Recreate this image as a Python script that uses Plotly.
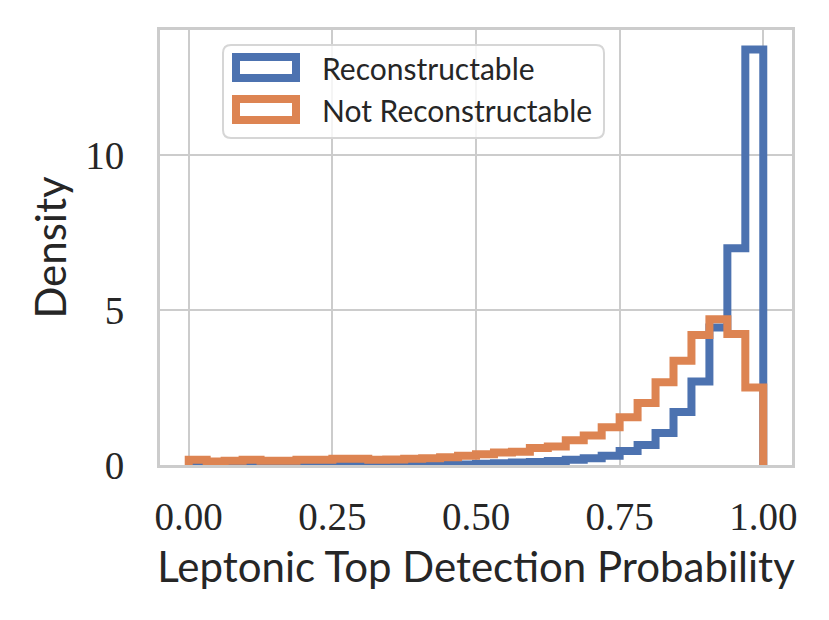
import numpy as np
import plotly.graph_objects as go

# density per bin, 32 equal bins on [0, 1]
n_bins = 32
bin_edges = np.linspace(0, 1, n_bins + 1)

reconstructable = [0, 0, 0, 0, 0, 0, 0, 0, 0, 0,
                   0.003, 0.004, 0.006, 0.008,
                   0.01, 0.02, 0.04, 0.06, 0.08, 0.10, 0.13, 0.17,
                   0.22, 0.30, 0.45, 0.65, 1.03, 1.71, 2.70, 4.44, 7.00, 13.42]
not_reconstructable = [0.17, 0.11, 0.14, 0.17, 0.14, 0.14, 0.17, 0.17, 0.20, 0.20,
                       0.17, 0.18, 0.20, 0.22,
                       0.25, 0.30, 0.35, 0.40, 0.43, 0.55, 0.60, 0.80,
                       0.95, 1.22, 1.54, 2.00, 2.67, 3.37, 4.20, 4.71, 4.23, 2.50]

labels = ["Reconstructable", "Not Reconstructable"]
colors = ["#4c72b0", "#dd8452"]
x_ticks = [0, 0.25, 0.5, 0.75, 1.0]
y_ticks = [0, 5, 10]

TICK_FONT = dict(family="Liberation Serif", size=39, color="#262626")
TITLE_FONT = dict(family="Lato", size=42, color="#262626")


def step_outline(values):
    # same path as a matplotlib 'step' histogram: up, across each bin, down
    xs = np.r_[bin_edges[0], bin_edges, bin_edges[-1]]
    ys = np.r_[0, values, values[-1], 0]
    return xs, ys


fig = go.Figure()
for vals, name, col in zip([reconstructable, not_reconstructable], labels, colors):
    xs, ys = step_outline(vals)
    fig.add_trace(go.Scatter(x=xs, y=ys, mode="lines", name=name,
                             line=dict(color=col, width=8, shape="hv"),
                             showlegend=False))

# page body keeps its default 8px margin, so the figure sits 8px in from the corner
fig.update_layout(
    width=829, height=620,
    margin=dict(l=152, r=45, t=22, b=163),
    paper_bgcolor="white", plot_bgcolor="white",
    xaxis=dict(range=[-0.05, 1.05], tickvals=x_ticks, ticktext=["%.2f" % v for v in x_ticks],
               showgrid=True, gridcolor="#cccccc", gridwidth=2, zeroline=False,
               showline=True, mirror=True, linecolor="#cccccc", linewidth=3,
               ticks="outside", ticklen=15, tickcolor="rgba(0,0,0,0)", tickfont=TICK_FONT,
               automargin=False,
               title=dict(text="Leptonic Top Detection Probability", font=TITLE_FONT, standoff=16)),
    yaxis=dict(range=[0, 14.05], tickvals=y_ticks,
               showgrid=True, gridcolor="#cccccc", gridwidth=2, zeroline=False,
               showline=True, mirror=True, linecolor="#cccccc", linewidth=3,
               ticks="outside", ticklen=25, tickcolor="rgba(0,0,0,0)", tickfont=TICK_FONT,
               automargin=False,
               title=dict(text="Density", font=TITLE_FONT, standoff=6)),
)

# legend drawn by hand to get matplotlib-style outlined patches
def px_x(px):
    return (px - 160) / 632.0


def px_y(py):
    return (465 - py) / 435.0


bx0, bx1, by0, by1 = px_x(223), px_x(604), px_y(138), px_y(45)
rx, ry = 8 / 632.0, 8 / 435.0
box_path = (f"M {bx0 + rx},{by0} L {bx1 - rx},{by0} Q {bx1},{by0} {bx1},{by0 + ry} "
            f"L {bx1},{by1 - ry} Q {bx1},{by1} {bx1 - rx},{by1} "
            f"L {bx0 + rx},{by1} Q {bx0},{by1} {bx0},{by1 - ry} "
            f"L {bx0},{by0 + ry} Q {bx0},{by0} {bx0 + rx},{by0} Z")
fig.add_shape(type="path", path=box_path, xref="paper", yref="paper",
              line=dict(color="#d6d6d6", width=2), fillcolor="rgba(255,255,255,0.8)")

for i, (name, col) in enumerate(zip(labels, colors)):
    top = 57 + i * 42
    fig.add_shape(type="rect", xref="paper", yref="paper",
                  x0=px_x(236), x1=px_x(296), y0=px_y(top + 21), y1=px_y(top),
                  line=dict(color=col, width=8), fillcolor="white")
    fig.add_annotation(x=px_x(320), y=px_y(top + 11), xref="paper", yref="paper",
                       text=name, showarrow=False, xanchor="left", yanchor="middle",
                       font=dict(family="Lato", size=30, color="#262626"))

fig.write_html("out.html")
